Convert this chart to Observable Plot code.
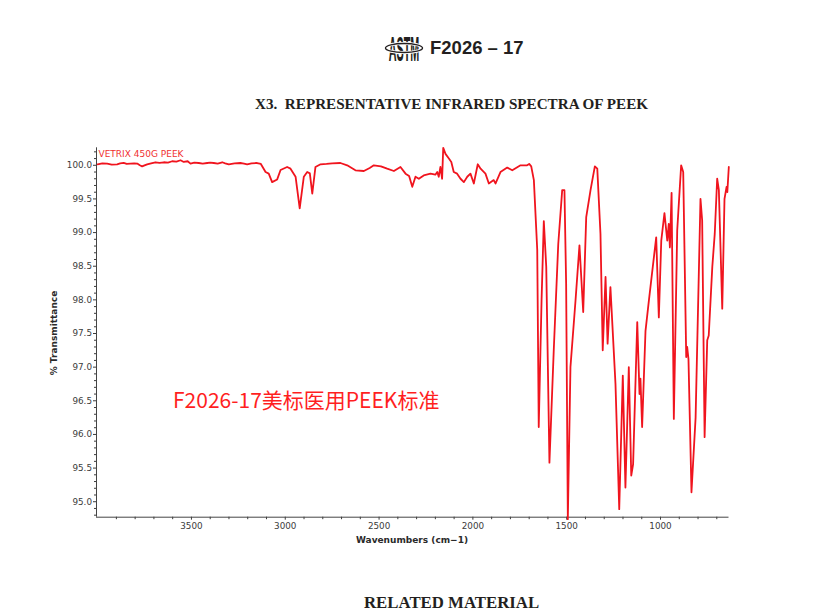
<!DOCTYPE html>
<html>
<head>
<meta charset="utf-8">
<script src="https://cdn.jsdelivr.net/npm/d3@7"></script>
<script src="https://cdn.jsdelivr.net/npm/@observablehq/plot@0.6"></script>
<style>
  html, body { margin: 0; padding: 0; background: #fff; }
  body { width: 836px; height: 612px; overflow: hidden; position: relative; }
  #chart { position: absolute; left: 0; top: 130px; }
  #page { position: absolute; left: 0; top: 0; pointer-events: none; }
</style>
</head>
<body>
<div id="chart"></div>
<svg id="page" width="836" height="612"></svg>
<script>
// ---- data ----
const wavenumber = [
  4000, 3975, 3949, 3925, 3896, 3880, 3861, 3845, 3825, 3805, 3789, 3775, 3763, 3750, 3736, 3715,
  3692, 3670, 3647, 3625, 3603, 3580, 3558, 3541, 3520, 3505, 3485, 3461, 3440, 3416, 3400, 3381,
  3360, 3336, 3320, 3301, 3270, 3239, 3220, 3203, 3180, 3150, 3130, 3105, 3088, 3070, 3043, 3025,
  2990, 2972, 2945, 2923, 2901, 2883, 2869, 2856, 2839, 2812, 2780, 2750, 2706, 2670, 2626, 2581,
  2550, 2528, 2490, 2457, 2421, 2386, 2359, 2340, 2323, 2306, 2288, 2262, 2226, 2200, 2190, 2182,
  2173, 2164, 2158, 2146, 2128, 2115, 2102, 2084, 2066, 2048, 2030, 2013, 1995, 1974, 1959, 1933,
  1915, 1889, 1879, 1853, 1817, 1790, 1746, 1711, 1700, 1689, 1675, 1657, 1649, 1634, 1622, 1609,
  1592, 1569, 1545, 1524, 1512, 1503, 1494, 1480, 1453, 1432, 1412, 1396, 1373, 1350, 1337, 1320,
  1308, 1293, 1282, 1267, 1240, 1220, 1201, 1187, 1169, 1156, 1146, 1124, 1112, 1107, 1098, 1080,
  1062, 1023, 1009, 996, 979, 964, 956, 950, 941, 929, 911, 890, 879, 863, 858, 851,
  835, 813, 787, 778, 765, 751, 743, 724, 711, 698, 689, 671, 659, 648, 644, 636
];
const transmittance = [
  100.015, 100.03, 100.025, 100.01, 100.015, 100.03, 100.035, 100.02, 100.025, 100.03, 100.025, 100.0, 99.985, 100.0, 100.015, 100.03,
  100.045, 100.035, 100.045, 100.04, 100.06, 100.055, 100.075, 100.05, 100.06, 100.025, 100.04, 100.034, 100.025, 100.034, 100.04, 100.034,
  100.025, 100.045, 100.03, 100.015, 100.03, 100.034, 100.025, 100.015, 100.03, 100.034, 100.02, 99.90, 99.876, 99.75, 99.79, 99.93,
  99.975, 99.95, 99.83, 99.36, 99.83, 99.90, 99.88, 99.58, 99.975, 100.015, 100.02, 100.03, 100.034, 100.0, 99.926, 99.915,
  99.96, 100.0, 99.985, 99.95, 99.915, 99.975, 99.876, 99.84, 99.68, 99.83, 99.80, 99.85, 99.876, 99.86, 99.90, 99.83,
  99.975, 99.80, 100.26, 100.17, 100.10, 100.05, 99.90, 99.876, 99.80, 99.75, 99.83, 99.876, 99.73, 100.015, 99.95, 99.876,
  99.73, 99.78, 99.73, 99.90, 99.966, 99.926, 100.0, 100.0, 100.02, 99.985, 99.78, 98.74, 96.11, 97.99, 99.17, 98.49,
  95.58, 97.25, 98.83, 99.63, 99.63, 98.24, 94.74, 97.0, 97.99, 98.81, 97.82, 99.23, 99.63, 99.985, 99.95, 98.98,
  97.25, 98.34, 97.35, 98.19, 96.75, 94.89, 96.875, 95.21, 97.0, 95.39, 95.56, 97.67, 96.60, 96.83, 96.11, 97.54,
  97.99, 98.93, 97.74, 98.88, 99.29, 98.88, 99.13, 98.78, 99.59, 96.23, 99.03, 100.0, 99.90, 97.15, 97.30, 97.12,
  95.14, 96.25, 99.50, 99.18, 95.96, 97.40, 97.47, 98.49, 98.98, 99.80, 99.63, 97.87, 99.50, 99.68, 99.60, 99.975
];
const xMajorTicks = [3500, 3000, 2500, 2000, 1500, 1000];
const xMinorTicks = [3900, 3800, 3700, 3600, 3400, 3300, 3200, 3100, 2900, 2800, 2700, 2600, 2400, 2300, 2200, 2100,
  1900, 1800, 1700, 1600, 1400, 1300, 1200, 1100, 900, 800, 700];
const yMajorTicks = [95.0, 95.5, 96.0, 96.5, 97.0, 97.5, 98.0, 98.5, 99.0, 99.5, 100.0];
const yMinorTicks = [94.8, 94.9, 95.1, 95.2, 95.3, 95.4, 95.6, 95.7, 95.8, 95.9, 96.1, 96.2, 96.3, 96.4, 96.6, 96.7, 96.8, 96.9,
  97.1, 97.2, 97.3, 97.4, 97.6, 97.7, 97.8, 97.9, 98.1, 98.2, 98.3, 98.4, 98.6, 98.7, 98.8, 98.9,
  99.1, 99.2, 99.3, 99.4, 99.6, 99.7, 99.8, 99.9, 100.1, 100.2];
const xDomain = [4006, 635];
const yDomain = [94.77, 100.26];
const seriesName = "VETRIX 450G PEEK";
const xLabel = "Wavenumbers (cm\u22121)";
const yLabel = "% Transmittance";
const docCode = "F2026 \u2013 17";
const sectionTitle = "X3.  REPRESENTATIVE INFRARED SPECTRA OF PEEK";
const nextSection = "RELATED MATERIAL";
const watermark = "F2026-17美标医用PEEK标准";

const spectrum = wavenumber.map((w, i) => ({w, t: transmittance[i]}));

const chart = Plot.plot({
  width: 836,
  height: 420,
  marginLeft: 96,
  marginRight: 107.5,
  marginTop: 17.3,
  marginBottom: 33.3,
  style: {fontFamily: "'DejaVu Sans', sans-serif", fontSize: "8.8px", color: "#3c3c3c", background: "transparent"},
  x: {domain: xDomain, axis: null},
  y: {domain: yDomain, axis: null},
  marks: [
    Plot.axisX(xMinorTicks, {anchor: "bottom", tickSize: 2.5, fill: null, label: null}),
    Plot.axisX(xMajorTicks, {anchor: "bottom", tickSize: 3, tickPadding: 3, tickFormat: d => String(d), label: null}),
    Plot.axisY(yMinorTicks, {anchor: "left", tickSize: 2, fill: null, label: null}),
    Plot.axisY(yMajorTicks, {anchor: "left", tickSize: 3, tickPadding: 1.5, tickFormat: d => d.toFixed(1), label: null}),
    Plot.ruleY([yDomain[0]], {stroke: "#444"}),
    Plot.ruleX([xDomain[0]], {stroke: "#444"}),
    Plot.line(spectrum, {x: "w", y: "t", stroke: "#f0141e", strokeWidth: 1.8, strokeLinejoin: "round"}),
    Plot.text([seriesName], {frameAnchor: "top-left", dx: 2, dy: 3, fill: "#f03030", fontSize: 9})
  ]
});
document.getElementById("chart").appendChild(chart);

// ---- page text around the chart ----
const page = d3.select("#page");
// ASTM logo (approximation)
const logo = page.append("g").attr("transform", "translate(404,48)");
logo.append("text").text("ASTM")
  .attr("transform", "scale(0.72,2.35)").attr("y", 5.5).attr("text-anchor", "middle")
  .attr("font-family", "'Liberation Sans', sans-serif").attr("font-weight", "bold").attr("font-size", 15)
  .attr("fill", "#231f20");
logo.append("ellipse").attr("rx", 18.5).attr("ry", 4.5).attr("fill", "none")
  .attr("stroke", "#fff").attr("stroke-width", 3);
logo.append("ellipse").attr("rx", 18.5).attr("ry", 4.5).attr("fill", "none")
  .attr("stroke", "#231f20").attr("stroke-width", 1.4);

page.append("text").text(docCode)
  .attr("x", 430).attr("y", 53.5)
  .attr("font-family", "'Liberation Sans', sans-serif").attr("font-weight", "bold").attr("font-size", 18.5).attr("fill", "#231f20");

page.append("text").text(sectionTitle)
  .attr("x", 255).attr("y", 109).attr("xml:space", "preserve").style("white-space", "pre")
  .attr("font-family", "'Liberation Serif', serif").attr("font-weight", "bold").attr("font-size", 15.15).attr("fill", "#231f20");

page.append("text").text(nextSection)
  .attr("x", 364).attr("y", 608)
  .attr("font-family", "'Liberation Serif', serif").attr("font-weight", "bold").attr("font-size", 16.8).attr("fill", "#231f20");

page.append("text").text(yLabel)
  .attr("transform", "translate(56.5,333) rotate(-90)").attr("text-anchor", "middle")
  .attr("font-family", "'DejaVu Sans', sans-serif").attr("font-weight", "bold").attr("font-size", 9).attr("fill", "#2a2a2a");

page.append("text").text(xLabel)
  .attr("x", 412).attr("y", 543).attr("text-anchor", "middle")
  .attr("font-family", "'DejaVu Sans', sans-serif").attr("font-weight", "bold").attr("font-size", 9).attr("fill", "#2a2a2a");

page.append("text").text(watermark)
  .attr("x", 173).attr("y", 407.5)
  .attr("font-family", "'Noto Sans CJK SC', sans-serif").attr("font-size", 21).attr("fill", "#ff1f1f");
</script>
</body>
</html>
